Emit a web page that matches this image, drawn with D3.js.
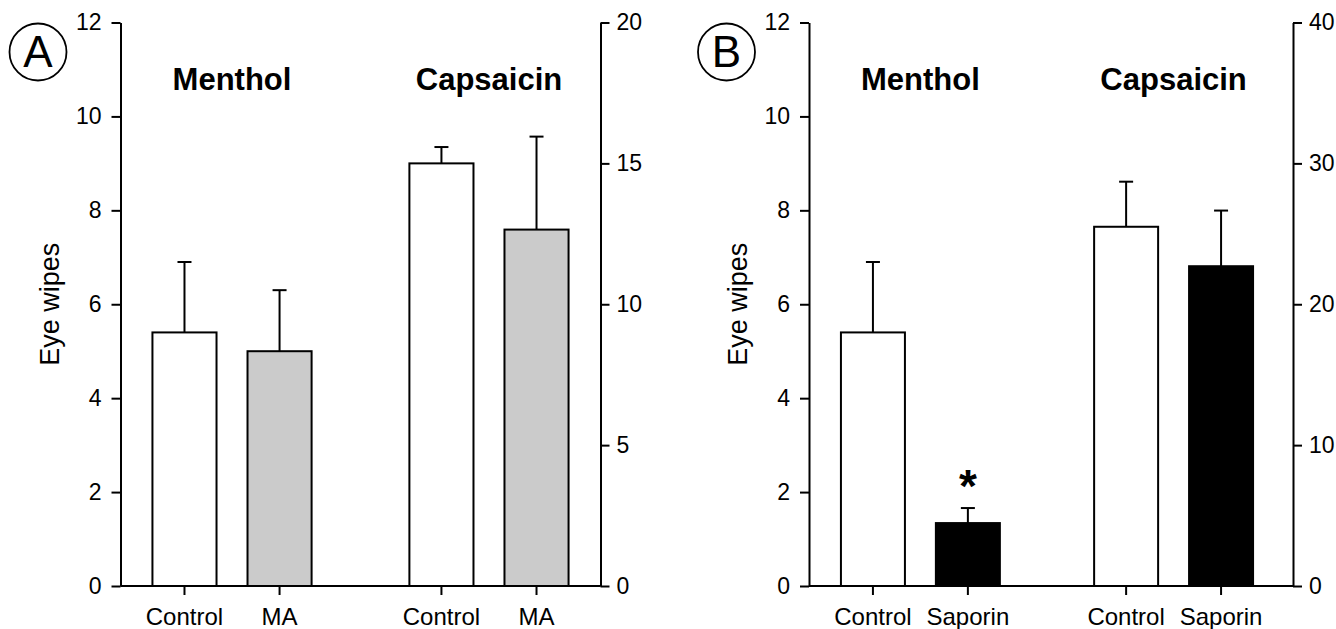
<!DOCTYPE html>
<html>
<head>
<meta charset="utf-8">
<script src="https://cdn.jsdelivr.net/npm/d3@7"></script>
<style>
  body { margin: 0; background: #fff; }
  svg { display: block; }
  text { font-family: "Liberation Sans", Arial, sans-serif; fill: #000; }
</style>
</head>
<body>
<div id="chart"></div>
<script>
// values
var groups = ["Menthol", "Capsaicin"];
var conditionsA = ["Control", "MA"];
var conditionsB = ["Control", "Saporin"];

// menthol bars use the left axis, capsaicin bars the right one
var mentholMeanA = [5.4, 5.0];
var mentholErrA = [1.5, 1.3];
var capsaicinMeanA = [15.0, 12.65];
var capsaicinErrA = [0.58, 3.3];

var mentholMeanB = [5.4, 1.34];
var mentholErrB = [1.5, 0.32];
var capsaicinMeanB = [25.5, 22.7];
var capsaicinErrB = [3.2, 3.95];

var starsB = [false, true];   // significance marks on menthol bars

var leftTicks = [0, 2, 4, 6, 8, 10, 12];
var rightTicksA = [0, 5, 10, 15, 20];
var rightTicksB = [0, 10, 20, 30, 40];

var W = 1336, H = 629;
var plotTop = 22.5, plotBottom = 586;

var svg = d3.select("#chart").append("svg")
    .attr("width", W)
    .attr("height", H);

var panels = [
  { letter: "A", x0: 120.5, width: 480, groupRange: 480, padIn: 0.26, padOut: 0.064,
    conds: conditionsA, treatedFill: "#cbcbcb",
    menthol: mentholMeanA, mentholErr: mentholErrA, caps: capsaicinMeanA, capsErr: capsaicinErrA,
    rightTicks: rightTicksA, stars: [false, false] },
  { letter: "B", x0: 809, width: 484, groupRange: 476, padIn: 0.25, padOut: 0.065,
    conds: conditionsB, treatedFill: "#000000",
    menthol: mentholMeanB, mentholErr: mentholErrB, caps: capsaicinMeanB, capsErr: capsaicinErrB,
    rightTicks: rightTicksB, stars: starsB }
];

panels.forEach(function (p) {
  var g = svg.append("g").attr("transform", "translate(" + p.x0 + ",0)");

  var yLeft = d3.scaleLinear().domain([0, 12]).range([plotBottom, plotTop]);
  var yRight = d3.scaleLinear().domain([0, d3.max(p.rightTicks)]).range([plotBottom, plotTop]);

  var xGroup = d3.scaleBand().domain(groups).range([0, p.groupRange])
      .paddingInner(p.padIn).paddingOuter(p.padOut);
  var xCond = d3.scaleBand().domain(p.conds).range([0, xGroup.bandwidth()])
      .paddingInner(0.326).paddingOuter(0.163);

  // build bar records
  var bars = [];
  groups.forEach(function (grp, gi) {
    p.conds.forEach(function (c, ci) {
      var isM = gi === 0;
      bars.push({
        group: grp,
        cond: c,
        treated: ci === 1,
        mean: isM ? p.menthol[ci] : p.caps[ci],
        err: isM ? p.mentholErr[ci] : p.capsErr[ci],
        y: isM ? yLeft : yRight,
        star: isM ? p.stars[ci] : false
      });
    });
  });

  function cx(d) { return xGroup(d.group) + xCond(d.cond) + xCond.bandwidth() / 2; }

  // error bars (drawn first so bar outline sits on top)
  var eb = g.append("g").attr("stroke", "#000").attr("stroke-width", 2).attr("fill", "none");
  eb.selectAll("line.stem").data(bars).enter().append("line")
      .attr("x1", cx).attr("x2", cx)
      .attr("y1", function (d) { return d.y(d.mean); })
      .attr("y2", function (d) { return d.y(d.mean + d.err); });
  eb.selectAll("line.cap").data(bars).enter().append("line")
      .attr("x1", function (d) { return cx(d) - 7; })
      .attr("x2", function (d) { return cx(d) + 7; })
      .attr("y1", function (d) { return d.y(d.mean + d.err); })
      .attr("y2", function (d) { return d.y(d.mean + d.err); });

  g.selectAll("rect.bar").data(bars).enter().append("rect")
      .attr("class", "bar")
      .attr("x", function (d) { return xGroup(d.group) + xCond(d.cond); })
      .attr("width", xCond.bandwidth())
      .attr("y", function (d) { return d.y(d.mean); })
      .attr("height", function (d) { return d.y(0) - d.y(d.mean); })
      .attr("fill", function (d) { return d.treated ? p.treatedFill : "#fff"; })
      .attr("stroke", "#000")
      .attr("stroke-width", 2);

  // significance star
  g.selectAll("text.star").data(bars.filter(function (d) { return d.star; })).enter().append("text")
      .attr("x", cx)
      .attr("y", function (d) { return d.y(d.mean + d.err) - 6; })
      .attr("text-anchor", "middle")
      .attr("font-size", 46)
      .attr("font-weight", "bold")
      .text("*");

  // baseline
  g.append("line")
      .attr("x1", 0).attr("x2", p.width)
      .attr("y1", plotBottom).attr("y2", plotBottom)
      .attr("stroke", "#000").attr("stroke-width", 2);

  // category ticks + labels
  g.selectAll("line.xt").data(bars).enter().append("line")
      .attr("x1", cx).attr("x2", cx)
      .attr("y1", plotBottom).attr("y2", plotBottom + 9)
      .attr("stroke", "#000").attr("stroke-width", 2);
  g.selectAll("text.xl").data(bars).enter().append("text")
      .attr("x", cx)
      .attr("y", plotBottom + 38.5)
      .attr("text-anchor", "middle")
      .attr("font-size", 24)
      .text(function (d) { return d.cond; });

  // axes
  var la = g.append("g")
      .call(d3.axisLeft(yLeft).tickValues(leftTicks).tickSize(9).tickSizeOuter(0).tickPadding(10));
  var ra = g.append("g").attr("transform", "translate(" + p.width + ",0)")
      .call(d3.axisRight(yRight).tickValues(p.rightTicks).tickSize(9).tickSizeOuter(0).tickPadding(7));
  [la, ra].forEach(function (a) {
    a.selectAll("path, line").attr("stroke", "#000").attr("stroke-width", 2);
    a.selectAll("text").attr("font-size", 23).attr("fill", "#000");
    a.attr("font-family", null).attr("font-size", null);
  });

  // group titles
  g.selectAll("text.title").data(groups).enter().append("text")
      .attr("x", function (d) { return xGroup(d) + xGroup.bandwidth() / 2; })
      .attr("y", 90)
      .attr("text-anchor", "middle")
      .attr("font-size", 31)
      .attr("font-weight", "bold")
      .text(function (d) { return d; });

  // y label
  g.append("text")
      .attr("transform", "translate(-62," + ((plotTop + plotBottom) / 2) + ") rotate(-90)")
      .attr("text-anchor", "middle")
      .attr("font-size", 27)
      .text("Eye wipes");

  // panel letter in circle
  g.append("circle")
      .attr("cx", -82.5).attr("cy", 52).attr("r", 28.5)
      .attr("fill", "none").attr("stroke", "#000").attr("stroke-width", 1.8);
  g.append("text")
      .attr("x", -82.5).attr("y", 67)
      .attr("text-anchor", "middle")
      .attr("font-size", 44)
      .text(p.letter);
});
</script>
</body>
</html>
